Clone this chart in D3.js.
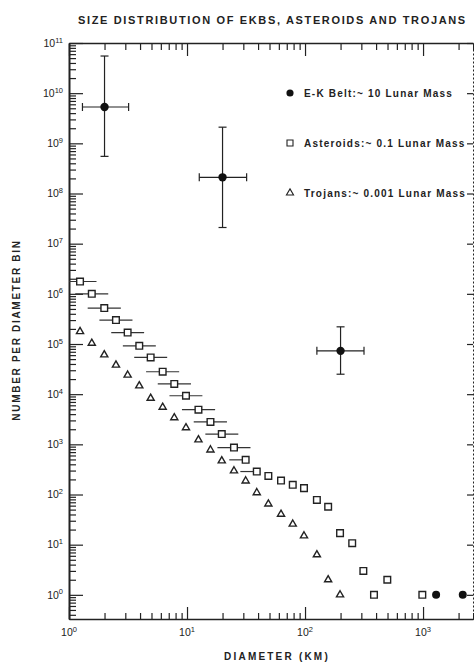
<!DOCTYPE html>
<html>
<head>
<meta charset="utf-8">
<script src="https://cdn.jsdelivr.net/npm/d3@7"></script>
<style>
  body { margin: 0; background: #fff; }
  svg { display: block; font-family: "Liberation Sans", Arial, sans-serif; }
  .axis path, .axis line { stroke: #222; }
  .lbl { fill: #222; }
</style>
</head>
<body>
<svg class="chart"></svg>
<script>
// E-K belt bins (diameter km, number per bin) with error ranges
const ekbDiam = [2, 20, 200];
const ekbNum = [5.3e9, 2.1e8, 7.3e4];
const ekbNumLo = [5.5e8, 2.1e7, 2.5e4];
const ekbNumHi = [5.5e10, 2.1e9, 2.2e5];
const ekbDiamLo = [1.3, 12.7, 126];
const ekbDiamHi = [3.2, 32, 316];
// the two big ones (Charon, Pluto)
const ekbBigDiam = [1290, 2170];
const ekbBigNum = [1, 1];

// asteroids
const astDiam = [1.24, 1.56, 1.99, 2.5, 3.14, 3.94, 4.92, 6.22, 7.8, 9.8, 12.5, 15.8, 19.7, 25,
  31.4, 39, 48.9, 62.6, 78.7, 98, 126, 157, 198, 251, 312, 384, 498, 986];
const astNum = [1.76e6, 1.0e6, 5.2e5, 3.0e5, 1.69e5, 9.2e4, 5.4e4, 2.8e4, 1.6e4, 9.3e3, 4.9e3,
  2.8e3, 1.6e3, 863, 491, 287, 235, 190, 156, 134, 78, 57, 17, 10.7, 3, 1, 2, 1];
const astDiamLo = [0.9, 1.13, 1.44, 1.81, 2.28, 2.86, 3.57, 4.5, 5.65, 7.1, 9.06, 11.4, 14.3, 18.1, 22.8, 28.3];
const astDiamHi = [1.71, 2.15, 2.75, 3.45, 4.33, 5.44, 6.79, 8.58, 10.8, 13.5, 17.3, 21.8, 27.2, 34.5, null, null];

// trojans
const trojDiam = [1.24, 1.56, 1.99, 2.5, 3.14, 3.94, 4.92, 6.22, 7.8, 9.8, 12.5, 15.8, 19.7, 25,
  31.4, 39, 48.9, 62.6, 78.7, 98, 126, 157, 198];
const trojNum = [1.77e5, 1.04e5, 6.1e4, 3.8e4, 2.4e4, 1.47e4, 8.3e3, 5.5e3, 3.4e3, 2.15e3, 1.23e3,
  776, 469, 296, 187, 109, 65, 40.6, 25.7, 15, 6.3, 2, 1];

const legendLabels = ['E-K Belt:~ 10 Lunar Mass', 'Asteroids:~ 0.1 Lunar Mass', 'Trojans:~ 0.001 Lunar Mass'];
const xMajor = [1, 10, 100, 1000];
const yMajor = d3.range(0, 12).map(e => Math.pow(10, e));

const W = 474, H = 664;
const L = 69, R = 473, T = 43, B = 619;

const svg = d3.select('.chart').attr('width', W).attr('height', H);

const x = d3.scaleLog().domain([1, 2650]).range([L, R]);
const y = d3.scaleLog().domain([0.33, 1e11]).range([B, T]);

function minors(lo, hi, scale) {
  const out = [];
  for (let e = lo; e <= hi; e++) {
    for (let m = 2; m <= 9; m++) {
      const v = m * Math.pow(10, e);
      const d = scale.domain();
      if (v >= d[0] && v <= d[1]) out.push(v);
    }
  }
  return out;
}
const xMinor = minors(0, 3, x);
const yMinor = minors(-1, 10, y);

// axes
function drawAxis(axis, tx, ty) {
  return svg.append('g').attr('class', 'axis')
    .attr('transform', `translate(${tx},${ty})`)
    .call(axis);
}
drawAxis(d3.axisLeft(y).tickValues(yMinor).tickSize(-7).tickFormat(''), L, 0);
drawAxis(d3.axisLeft(y).tickValues(yMajor).tickSize(-14).tickSizeOuter(0).tickFormat(''), L, 0)
  .select('.domain').attr('stroke-width', 2);
drawAxis(d3.axisBottom(x).tickValues(xMinor).tickSize(-6).tickFormat(''), 0, B);
drawAxis(d3.axisBottom(x).tickValues(xMajor).tickSize(-12).tickSizeOuter(0).tickFormat(''), 0, B)
  .select('.domain').attr('stroke-width', 1.5);
drawAxis(d3.axisTop(x).tickValues(xMinor).tickSize(-7).tickFormat(''), 0, T);
drawAxis(d3.axisTop(x).tickValues(xMajor).tickSize(-13).tickSizeOuter(0).tickFormat(''), 0, T)
  .select('.domain').attr('stroke-width', 1.5);
const right = drawAxis(d3.axisRight(y).tickValues(yMajor).tickSize(-6).tickSizeOuter(0).tickFormat(''), R, 0);
right.select('.domain').attr('stroke', '#777').attr('stroke-dasharray', '2,2');
svg.selectAll('.axis line').attr('stroke-width', 1.2);

// tick labels with superscripts
const yl = svg.append('g').selectAll('text').data(yMajor).join('text')
  .attr('class', 'lbl').attr('x', L - 6).attr('y', d => y(d)).attr('dy', '0.35em')
  .attr('text-anchor', 'end').attr('font-size', 10.5);
yl.append('tspan').text('10');
yl.append('tspan').attr('dy', '-0.55em').attr('font-size', 7.5).text(d => Math.round(Math.log10(d)));

const xl = svg.append('g').selectAll('text').data(xMajor).join('text')
  .attr('class', 'lbl').attr('x', d => x(d)).attr('y', B + 17)
  .attr('text-anchor', 'middle').attr('font-size', 10.5);
xl.append('tspan').text('10');
xl.append('tspan').attr('dy', '-0.55em').attr('font-size', 7.5).text(d => Math.round(Math.log10(d)));

// titles
svg.append('text').attr('class', 'lbl').attr('x', 78).attr('y', 24)
  .attr('font-size', 11).attr('font-weight', 'bold').attr('letter-spacing', 1.65)
  .text('SIZE DISTRIBUTION OF EKBS, ASTEROIDS AND TROJANS');
svg.append('text').attr('class', 'lbl').attr('x', 277).attr('y', 660)
  .attr('text-anchor', 'middle').attr('font-size', 10).attr('font-weight', 'bold').attr('letter-spacing', 2.2)
  .text('DIAMETER (KM)');
svg.append('text').attr('class', 'lbl')
  .attr('transform', 'translate(20,330) rotate(-90)')
  .attr('text-anchor', 'middle').attr('font-size', 10).attr('font-weight', 'bold').attr('letter-spacing', 1.7)
  .text('NUMBER PER DIAMETER BIN');

// plot area
svg.append('clipPath').attr('id', 'clip').append('rect')
  .attr('x', L).attr('y', T).attr('width', R - L).attr('height', B - T);
const plot = svg.append('g').attr('clip-path', 'url(#clip)');

// asteroid horizontal bars
const astBars = astDiamLo.map((lo, i) => ({ lo, hi: astDiamHi[i], d: astDiam[i], n: astNum[i] }));
plot.append('g').selectAll('line').data(astBars).join('line')
  .attr('x1', d => x(d.lo)).attr('x2', d => x(d.hi || d.d))
  .attr('y1', d => y(d.n)).attr('y2', d => y(d.n))
  .attr('stroke', '#333').attr('stroke-width', 1.2);

const sq = d3.symbol(d3.symbolSquare, 44);
const tri = d3.symbol(d3.symbolTriangle, 22);

plot.append('g').selectAll('path').data(astDiam).join('path')
  .attr('d', sq)
  .attr('transform', (d, i) => `translate(${x(d)},${y(astNum[i])})`)
  .attr('fill', '#fff').attr('stroke', '#222').attr('stroke-width', 1.4);

plot.append('g').selectAll('path').data(trojDiam).join('path')
  .attr('d', tri)
  .attr('transform', (d, i) => `translate(${x(d)},${y(trojNum[i])})`)
  .attr('fill', '#fff').attr('stroke', '#222').attr('stroke-width', 1.4);

// E-K belt with error bars
const ekb = ekbDiam.map((d, i) => ({ d, n: ekbNum[i], nlo: ekbNumLo[i], nhi: ekbNumHi[i], dlo: ekbDiamLo[i], dhi: ekbDiamHi[i] }));
const eg = plot.append('g').attr('stroke', '#222').attr('stroke-width', 1.2);
ekb.forEach(p => {
  const cx = x(p.d), cy = y(p.n);
  eg.append('line').attr('x1', cx).attr('x2', cx).attr('y1', y(p.nlo)).attr('y2', y(p.nhi));
  eg.append('line').attr('x1', x(p.dlo)).attr('x2', x(p.dhi)).attr('y1', cy).attr('y2', cy);
  [p.nlo, p.nhi].forEach(v => eg.append('line').attr('x1', cx - 4).attr('x2', cx + 4).attr('y1', y(v)).attr('y2', y(v)));
  [p.dlo, p.dhi].forEach(v => eg.append('line').attr('x1', x(v)).attr('x2', x(v)).attr('y1', cy - 4).attr('y2', cy + 4));
});
plot.append('g').selectAll('circle').data(ekb).join('circle')
  .attr('cx', d => x(d.d)).attr('cy', d => y(d.n)).attr('r', 4.2).attr('fill', '#111');
plot.append('g').selectAll('circle').data(ekbBigDiam).join('circle')
  .attr('cx', d => x(d)).attr('cy', (d, i) => y(ekbBigNum[i])).attr('r', 4).attr('fill', '#111');

// legend
const leg = svg.append('g').attr('transform', 'translate(290,93)');
const li = leg.selectAll('g').data(legendLabels).join('g')
  .attr('transform', (d, i) => `translate(0,${i * 50})`);
li.append('path')
  .attr('d', (d, i) => i === 0 ? d3.symbol(d3.symbolCircle, 40)() : i === 1 ? d3.symbol(d3.symbolSquare, 36)() : d3.symbol(d3.symbolTriangle, 22)())
  .attr('fill', (d, i) => i === 0 ? '#111' : '#fff')
  .attr('stroke', '#222').attr('stroke-width', (d, i) => i === 0 ? 0 : 1.1);
li.append('text').attr('class', 'lbl').attr('x', 14).attr('dy', '0.35em')
  .attr('font-size', 10).attr('font-weight', 'bold').attr('letter-spacing', 1.2)
  .text(d => d);
</script>
</body>
</html>
